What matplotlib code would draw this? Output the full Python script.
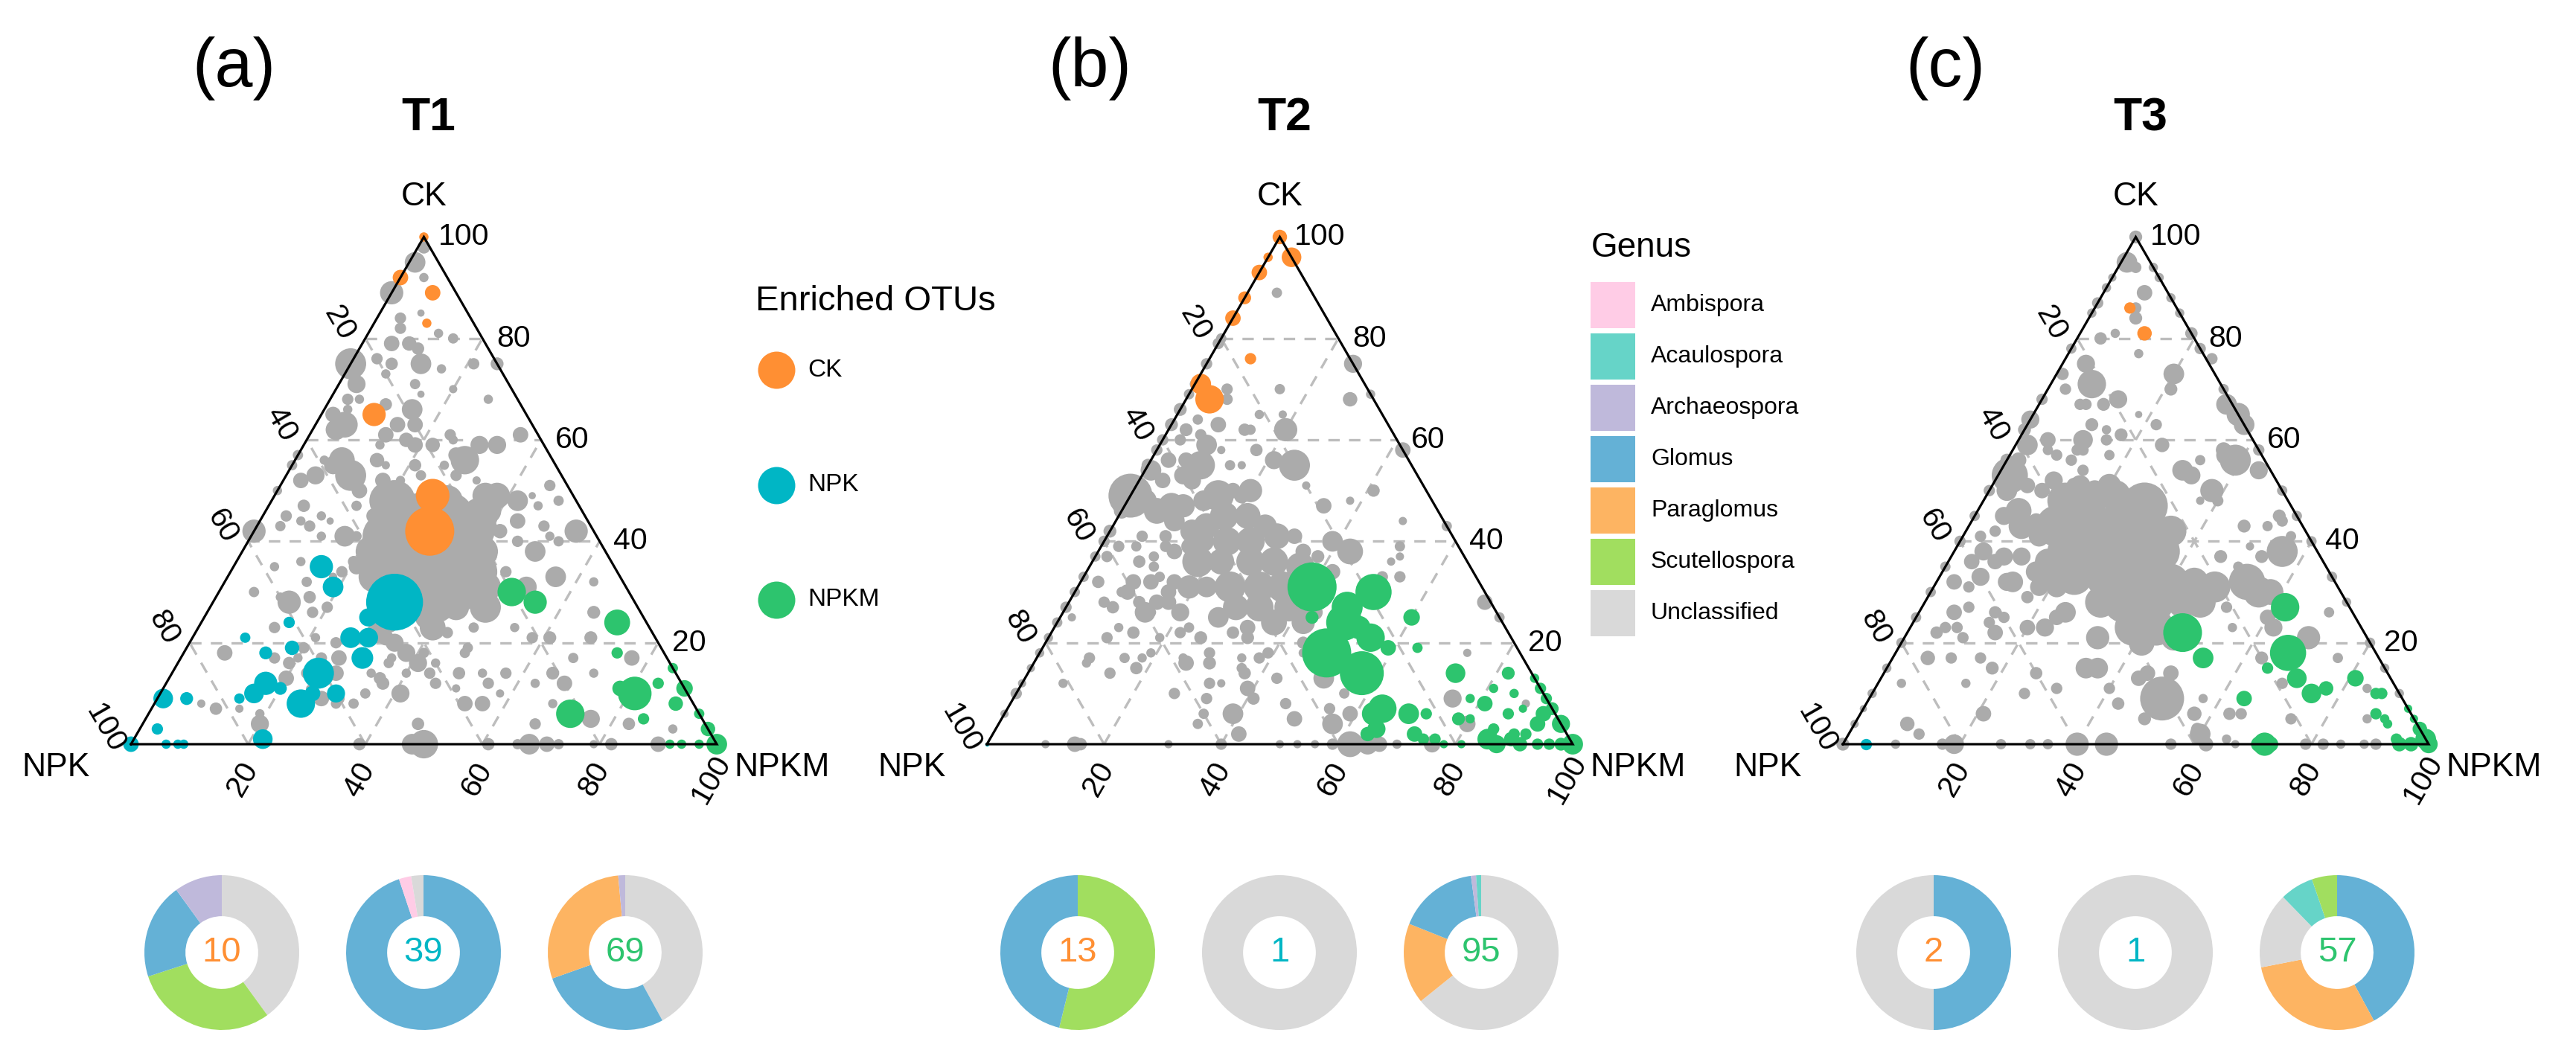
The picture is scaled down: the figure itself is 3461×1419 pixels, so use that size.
import numpy as np
import matplotlib.pyplot as plt
from matplotlib.patches import Rectangle

plt.rcParams['font.family'] = ['Liberation Sans', 'DejaVu Sans']
plt.rcParams['lines.scale_dashes'] = False

# ---- data: (CK %, NPKM %, relative abundance); NPK = 100 - CK - NPKM
t1_gray = [(98,1,2.5),(95,1,4.0),(92,4,1.8),(89,0,4.5),(85,7,1.4),(84,4,2.2),(82,5,2.2),(81,12,1.8),(79,5,3.0),
           (79,8,2.8),(80,15,2.0),(75,0,6.0),(76,4,2.2),(75,7,2.4),(75,12,4.0),(78,10,2.4),(74,16,1.8),(75,21,2.2),
           (75,25,2.5),(71,3,3.5),(73,7,1.8),(71,13,2.0),(69,15,1.4),(70,20,1.6),(68,27,1.8),(68,3,2.2),(67,10,2.4),
           (66,15,4.0),(63,5,5.0),(62,4,4.0),(63,14,3.0),(63,17,3.0),(61,13,3.0),(61,24,2.2),(60,25,1.8),(59,30,3.5),
           (59,33,3.5),(61,36,3.0),(60,17,2.8),(59,19,3.0),(59,22,2.8),(59,13,1.8),(56,8,5.0),(53,11,6.0),(50,14,3.0),
           (55,7,3.5),(56,14,2.8),(55,16,1.6),(56,5,1.8),(53,5,3.5),(55,0,2.0),(52,3,3.0),(50,0,1.8),(55,21,2.4),
           (53,23,2.0),(55,26,1.8),(56,29,5.5),(53,29,2.2),(57,27,3.0),(52,33,1.6),(52,17,3.0),(52,20,1.8),(48,20,7.5),
           (47,21,6.0),(45,19,3.0),(47,15,2.0),(47,6,2.4),(44,7,1.8),(45,10,1.8),(44,12,1.4),(43,9,2.2),(43,4,2.0),
           (42,0,4.5),(41,16,4.0),(41,18,2.0),(41,12,1.8),(43,40,2.2),(44,44,3.0),(48,42,4.0),(49,36,5.0),(48,38,4.0),
           (49,44,1.4),(47,46,1.8),(48,49,2.0),(51,46,2.2),(42,55,4.5),(43,49,2.2),(41,51,1.8),(40,53,2.0),(40,46,2.2),
           (38,50,4.0),(42,42,2.8),(39,41,2.4),(37,43,2.2),(33,56,4.0),(31,52,4.0),(32,63,1.8),(34,47,2.2),(31,46,2.4),
           (27,47,6.0),(27,42,5.0),(23,40,5.0),(23,47,2.0),(23,54,1.8),(21,58,2.2),(21,61,2.5),(26,66,2.5),(21,68,2.5),
           (17,77,3.0),(17,67,2.0),(14,65,2.5),(12,68,3.0),(14,72,1.8),(14,57,2.2),(14,53,1.8),(18,48,2.0),(11,50,1.6),
           (12,55,2.2),(10,58,1.6),(8,53,3.0),(8,56,3.0),(12,63,1.8),(8,68,1.8),(5,76,3.5),(4,83,2.4),(3,91,1.8),
           (4,67,2.2),(0,68,4.0),(0,71,3.0),(0,73,2.0),(0,79,1.6),(0,82,2.4),(0,90,3.0),(0,66,2.0),(0,61,2.4),
           (0,50,5.5),(0,48,4.0),(0,39,2.4),(4,47,2.4),(10,41,3.5),(12,37,2.5),(10,35,2.0),(13,36,2.4),(14,34,1.8),
           (14,40,1.8),(8,34,2.0),(9,31,2.2),(9,28,3.0),(11,25,1.4),(13,20,3.0),(16,19,2.4),(17,24,2.2),(17,20,1.8),
           (17,16,2.2),(14,23,2.2),(13,27,2.2),(11,18,1.6),(14,28,3.0),(8,31,2.0),(4,20,3.5),(6,19,1.8),(7,15,1.6),
           (7,11,2.4),(8,8,1.6),(18,7,3.0),(19,20,2.2),(21,21,1.8),(20,25,2.2),(17,27,3.0),(23,13,2.2),(26,18,2.2),
           (27,20,2.2),(29,16,2.4),(28,13,4.5),(30,6,2.0),(29,11,1.8),(36,11,1.8),(35,7,1.8),(36,20,2.2),(34,19,2.2),
           (33,18,1.6),(45,4,2.2),(32,14,2.0),(21,30,2.2),(21,33,3.0),(20,35,3.5),(18,38,3.5),(16,41,3.5),(16,36,2.0),
           (17,36,1.8),(18,41,2.0),(14,44,2.2),(16,44,1.8),(22,31,4.0),(24,32,4.0),(25,38,4.5),(28,40,4.0),(29,43,3.0),
           (28,38,4.0),(32,41,2.4),(22,43,2.2),(19,48,2.0),(14,49,2.4),(12,46,2.2),(65,2,3.0),(66,4,1.8),(68,5,1.8),
           (35,21,3.0),(57,0,2.0),
           (48,21,8),(45,27,9),(45,32,9),(45,37,7),(41,23,9),(40,29,11),(40,35,10),(38,41,6),(36,24,7),(35,30,11),
           (35,36,11),(34,42,8),(31,34,10),(31,40,10),(31,45,6),(38,27,8),(33,25,6),(42,38,7),(48,30,6),(44,23,7),
           (28,38,8),(38,22,6),(46,38,5),(49,38,5)]
t1_ck = [(100,0,1.8),(92,0,3.0),(89,7,3.0),(83,9,1.8),(65,9,4.5),(49,27,6.5),(42,30,9.5)]
t1_npk = [(35,15,4.5),(31,19,4.0),(28,31,11),(25,28,3.5),(24,15,2.2),(21,9,2.0),(21,27,4.0),(21,30,3.8),(19,18,2.8),
          (17,31,4.2),(18,14,2.5),(14,25,6.0),(12,17,4.5),(10,16,3.8),(11,20,2.5),(9,14,2.0),(9,5,2.5),(9,1,3.8),
          (8,25,5.5),(10,26,3.0),(10,30,3.5),(3,3,2.2),(1,22,3.8),(0,0,3.0),(0,6,1.8),(0,8,1.8),(0,9,1.8)]
t1_npkm = [(30,50,5.5),(28,55,4.5),(24,71,5.0),(18,74,2.2),(10,81,6.5),(11,78,3.0),(12,84,2.2),(15,85,2.0),(11,89,3.2),
           (8,89,2.8),(6,72,5.5),(5,85,2.2),(6,94,2.0),(3,97,2.8),(0,100,4.0),(0,92,1.8),(0,97,1.8),(0,94,1.8)]

t2_gray = [(89,5,2.0),(79,0,2.2),(75,25,3.5),(70,15,2.0),(70,6,2.2),(68,7,2.2),(68,28,2.8),(65,14,1.8),(65,18,1.6),
           (63,8,3.0),(64,4,2.0),(62,3,2.5),(61,6,2.2),(59,8,4.0),(58,11,1.6),(62,14,2.0),(62,13,2.4),(62,20,4.5),
           (58,17,2.4),(56,21,3.5),(55,25,6.0),(55,14,2.0),(55,16,1.6),(55,9,5.5),(56,6,3.0),(56,3,3.0),(54,1,4.0),
           (60,3,2.2),(52,4,3.0),(53,7,3.5),(52,9,3.5),(49,0,8.5),(48,3,4.5),(46,6,5.0),(47,8,5.0),(47,10,4.5),
           (48,13,4.0),(49,15,6.0),(50,17,3.0),(49,19,3.0),(50,20,4.5),(44,10,4.0),(42,14,4.5),(43,16,5.0),(45,18,5.5),
           (45,22,5.0),(43,26,4.5),(41,29,5.0),(40,17,4.0),(40,21,5.5),(40,25,5.5),(36,18,6.0),(36,22,5.0),(36,27,5.5),
           (36,31,5.5),(41,32,3.0),(38,35,3.0),(35,36,5.5),(31,22,4.0),(31,26,6.0),(31,31,6.0),(31,35,6.0),(27,29,5.0),
           (27,33,5.5),(27,38,5.5),(24,37,5.0),(24,42,4.5),(25,27,4.0),(23,33,3.0),(22,31,2.4),(28,41,4.5),(26,43,3.0),
           (37,38,2.5),(40,39,4.0),(38,43,5.0),(34,42,3.0),(47,34,3.0),(51,29,1.6),(48,38,1.6),(44,49,1.6),(39,51,2.0),
           (37,52,1.6),(36,51,1.6),(33,54,2.2),(33,51,2.2),(50,41,2.4),(58,42,3.0),(28,71,3.0),(25,75,2.0),(43,57,2.0),
           (18,73,1.6),(9,75,3.5),(4,80,3.2),(8,88,1.6),(0,76,3.2),(0,62,5.0),(0,65,4.0),(0,67,3.0),(4,57,4.0),
           (6,59,3.0),(7,55,2.2),(10,56,2.0),(13,51,4.0),(18,45,1.8),(20,44,2.4),(5,50,3.0),(13,43,2.2),(18,39,2.2),
           (9,41,2.4),(11,39,3.0),(14,37,2.4),(15,36,2.0),(17,35,1.8),(17,38,2.2),(21,34,2.5),(6,39,4.0),(2,42,3.0),
           (0,40,2.2),(9,33,2.2),(12,32,2.2),(12,34,1.6),(6,34,2.0),(16,30,2.5),(18,29,2.2),(17,25,1.8),(16,26,3.0),
           (21,26,2.5),(23,23,2.0),(22,22,2.2),(10,27,2.2),(4,34,2.0),(0,31,1.6),(15,18,2.4),(17,18,1.8),(22,14,2.4),
           (18,19,1.8),(17,15,2.0),(21,19,1.8),(14,14,2.2),(17,9,2.2),(16,9,1.8),(12,7,1.8),(10,0,2.2),(0,15,3.0),
           (0,10,1.6),(0,16,2.4),(32,3,2.4),(28,6,2.2),(27,8,2.4),(30,8,2.0),(32,9,3.0),(30,9,3.0),(28,12,2.4),
           (32,12,3.0),(28,15,3.0),(26,15,2.0),(26,14,4.0),(28,17,3.0),(26,20,3.5),(31,19,4.5),(32,16,3.0),(30,16,3.0),
           (33,13,2.0),(36,8,2.4),(37,10,2.0),(35,11,2.0),(39,11,2.2),(41,10,2.4),(39,6,2.0),(41,6,2.2),(38,13,3.0),
           (39,15,3.0),(37,2,2.2),(39,3,2.2),(25,2,1.6),(21,10,2.2),(23,11,1.8),(8,47,2.2),(0,50,1.6),(0,53,1.6),
           (0,56,1.6),(0,59,2.2),(0,70,1.8),(80,0,2.0),(75,0,2.2),(71,0,2.0),(69,0,2.0),(66,0,2.5),(63,0,2.5),
           (60,0,2.2),(58,0,2.2),(55,0,2.5),(48,0,3.0),(46,0,3.0),(42,0,2.5),(40,0,2.2),(37,0,2.0),(33,0,2.0),
           (30,0,2.0),(27,0,2.2),(24,0,2.0),(21,0,1.8),(18,0,1.8),(15,0,1.6),(12,0,1.6),(6,0,1.6),(69,31,1.8)]
t2_ck = [(100,0,2.8),(96,4,3.8),(96,0,1.8),(93,0,3.0),(88,0,2.5),(84,0,3.0),(76,7,2.2),(71,1,4.0),(68,4,5.5)]
t2_npk = [(0,0,0.8)]
t2_npkm = [(31,40,9.5),(30,51,7.0),(27,48,6.0),(24,49,7.0),(23,52,4.5),(21,55,5.5),(18,49,9.5),(14,57,8.5),(19,59,3.0),
           (25,60,3.2),(19,64,2.0),(25,43,2.5),(14,73,3.8),(14,82,2.5),(11,81,1.8),(10,85,1.8),(7,64,5.5),(6,63,4.5),
           (6,69,4.0),(6,72,2.2),(3,65,3.5),(2,64,2.8),(9,78,1.8),(8,81,3.0),(5,78,2.5),(5,80,1.8),(6,86,2.2),
           (7,88,1.6),(13,87,1.8),(11,89,2.2),(9,91,2.2),(7,93,2.5),(6,92,3.0),(4,92,3.0),(4,96,3.5),(3,85,2.2),
           (2,89,2.2),(2,91,2.2),(2,72,3.0),(1,74,2.2),(1,76,2.2),(0,78,1.6),(1,85,4.0),(0,87,3.5),(1,89,2.8),
           (0,91,2.8),(0,94,2.2),(0,96,2.2),(0,100,4.0),(0,98,2.5),(0,81,1.6)]

t3_gray = [(100,0,2.5),(95,1,4.0),(94,3,2.2),(94,6,1.8),(92,0,1.6),(89,7,3.0),(86,7,2.2),(84,8,2.5),(87,0,2.2),
           (88,12,1.8),(80,4,2.4),(81,6,1.8),(81,19,2.4),(77,12,1.8),(75,4,3.5),(71,7,5.5),(73,1,2.4),(70,3,2.2),
           (68,13,3.5),(73,20,4.0),(70,21,2.5),(76,25,2.2),(67,32,4.0),(65,35,4.5),(67,7,2.2),(67,8,2.2),(67,11,2.5),
           (65,18,1.4),(63,22,2.2),(63,11,2.5),(62,14,1.8),(60,11,3.8),(60,15,2.2),(61,17,2.5),(59,25,2.8),(64,0,3.5),
           (60,5,3.0),(59,2,4.0),(58,6,2.0),(57,8,2.2),(58,11,2.2),(58,12,2.2),(57,17,2.0),(56,11,2.2),(54,14,2.2),
           (56,2,3.0),(53,2,7.0),(50,3,4.0),(51,6,3.0),(50,9,3.0),(52,10,3.5),(51,14,3.0),(51,15,4.0),(50,18,4.0),
           (51,20,4.5),(47,28,9.0),(54,31,4.0),(53,33,3.5),(50,38,4.5),(56,33,2.0),(48,40,2.2),(58,36,3.0),(56,39,6.0),
           (57,37,4.0),(54,44,3.5),(48,37,1.6),(43,47,2.5),(43,51,2.0),(45,52,2.5),(44,53,2.2),(41,56,2.0),(38,56,6.0),
           (37,53,2.5),(39,50,1.6),(35,50,2.0),(37,46,2.5),(32,53,7.0),(30,56,6.0),(30,58,5.0),(31,48,6.0),(32,44,5.5),
           (25,60,3.0),(23,62,3.5),(21,69,4.5),(26,70,2.0),(17,76,2.0),(5,87,1.8),(27,52,2.2),(23,55,1.8),(17,63,2.5),
           (12,69,2.2),(9,50,8.5),(5,49,2.5),(13,44,3.0),(14,45,3.0),(14,49,3.0),(9,57,1.8),(6,57,2.8),(3,59,2.4),
           (2,60,4.0),(0,62,2.8),(0,56,2.2),(6,63,2.4),(6,65,2.2),(1,65,1.8),(0,67,1.6),(5,74,2.2),(0,79,2.2),
           (0,82,2.2),(0,85,1.8),(0,89,1.8),(0,91,2.2),(11,84,1.8),(0,45,4.5),(0,40,4.5),(0,35,2.0),(0,32,2.0),
           (0,27,2.0),(0,19,3.8),(0,17,2.2),(0,9,1.8),(0,0,2.5),(8,43,2.4),(11,40,2.2),(15,34,4.0),(15,36,4.0),
           (11,31,2.2),(14,26,2.4),(10,26,2.2),(6,21,3.0),(15,18,2.5),(17,15,2.2),(12,15,1.8),(17,6,2.8),(12,4,1.8),
           (4,9,2.8),(2,12,2.2),(7,0,1.4),(15,0,1.8),(23,6,2.2),(23,8,2.2),(24,13,2.2),(22,15,3.0),(23,20,3.0),
           (29,17,2.4),(23,23,3.5),(25,24,3.0),(31,6,2.2),(33,7,3.5),(32,3,3.0),(36,4,3.0),(38,5,3.5),(36,8,3.0),
           (37,9,3.5),(37,12,3.5),(32,12,3.5),(32,13,4.0),(34,16,4.0),(27,8,2.2),(26,13,2.4),(25,15,2.2),(26,6,3.0),
           (22,5,2.4),(21,10,2.2),(17,10,2.2),(41,3,2.2),(42,5,2.2),(45,5,3.5),(46,7,5.0),(43,9,5.0),(44,11,3.0),
           (41,13,4.0),(36,17,5.0),(33,19,5.0),(31,21,4.0),(31,18,3.5),(26,25,4.0),(21,33,4.5),
           (48,14,7),(48,18,7),(49,22,6),(43,15,8),(43,20,9),(43,25,8),(42,31,7),(42,35,6),(38,19,7),(38,24,9),
           (38,30,9),(38,35,8),(33,23,7),(33,29,9),(33,34,9),(32,40,7),(28,30,6),(28,34,8),(28,39,8),(28,44,6),
           (23,38,7),(23,42,7),(20,41,5),(21,46,5),(28,47,6),
           (90,0,1.8),(85,0,1.8),(78,0,2.0),(68,0,2.2),(62,0,2.5),(56,0,2.5),(50,0,2.2),(45,0,2.0),(40,0,2.2),
           (35,0,2.0),(30,0,2.0),(25,0,2.0),(20,0,2.0),(10,0,1.8),(4,0,1.6),(92,8,1.8),(85,15,1.8),(78,22,2.2),
           (70,30,2.0),(63,37,4.0),(58,42,2.2),(50,50,2.0),(45,55,2.0),(40,60,2.0),(33,67,2.0),(28,72,1.8),
           (20,80,2.0),(15,85,1.8),(10,90,1.8)]
t3_ck = [(86,6,2.2),(81,11,2.8)]
t3_npk = [(0,4,2.2)]
t3_npkm = [(22,47,7.5),(17,53,4.0),(27,62,5.5),(18,67,7.0),(15,65,2.2),(13,71,3.8),(10,75,3.8),(11,77,2.8),(13,81,3.2),
           (9,64,3.0),(10,86,2.2),(10,87,2.2),(6,88,2.2),(5,90,1.8),(4,91,1.8),(7,93,1.6),(5,95,1.6),(3,97,2.8),
           (1,99,4.0),(0,100,3.5),(0,72,4.5),(0,71,3.0),(0,73,3.0),(0,95,2.8),(0,97,2.8),(1,94,2.2)]

# genus composition of enriched OTUs (clockwise from 12 o'clock)
t1_pies = [[('Unclassified', 4), ('Scutellospora', 3), ('Glomus', 2), ('Archaeospora', 1)],
           [('Glomus', 37), ('Ambispora', 1), ('Unclassified', 1)],
           [('Unclassified', 29), ('Glomus', 19), ('Paraglomus', 20), ('Archaeospora', 1)]]
t2_pies = [[('Scutellospora', 7), ('Glomus', 6)],
           [('Unclassified', 1)],
           [('Unclassified', 61), ('Paraglomus', 16), ('Glomus', 16), ('Archaeospora', 1), ('Acaulospora', 1)]]
t3_pies = [[('Glomus', 1), ('Unclassified', 1)],
           [('Unclassified', 1)],
           [('Glomus', 24), ('Paraglomus', 17), ('Unclassified', 9), ('Acaulospora', 4), ('Scutellospora', 3)]]

genus_names = ['Ambispora', 'Acaulospora', 'Archaeospora', 'Glomus', 'Paraglomus', 'Scutellospora', 'Unclassified']
genus_colors = ['#FFCCE6', '#66D4C8', '#BFB9DB', '#64B1D6', '#FDB462', '#A1DE5F', '#D9D9D9']
group_names = ['CK', 'NPK', 'NPKM']
group_colors = ['#FF8F33', '#00B6C5', '#2DC46E']
gray = '#ABABAB'
panel_tags = ['(a)', '(b)', '(c)']
panel_titles = ['T1', 'T2', 'T3']
grid_vals = [20, 40, 60, 80]
tick_vals = [20, 40, 60, 80, 100]

panels = [(t1_gray, [t1_ck, t1_npk, t1_npkm], t1_pies),
          (t2_gray, [t2_ck, t2_npk, t2_npkm], t2_pies),
          (t3_gray, [t3_ck, t3_npk, t3_npkm], t3_pies)]

W, H = 3461, 1419
fig = plt.figure(figsize=(W / 100, H / 100), dpi=100)
S3 = np.sqrt(3) / 2
SIDE = 787
BASE = 1000
R = 104


def rect_px(x, y, w, h):
    return [x / W, 1 - (y + h) / H, w / W, h / H]


def ftext(x, y, s, **kw):
    fig.text(x / W, 1 - y / H, s, **kw)


def to_xy(pts):
    a = np.array(pts, float)
    ck, npkm, r = a[:, 0], a[:, 1], a[:, 2]
    return npkm + ck / 2, ck * S3, (5.0 * r) ** 2


# legend keys overlay
lax = fig.add_axes([0, 0, 1, 1])
lax.set_xlim(0, W)
lax.set_ylim(H, 0)
lax.axis('off')

for k, (gpts, groups, pies) in enumerate(panels):
    left = 176 + 1150 * k
    ax = fig.add_axes(rect_px(left, BASE - SIDE * S3, SIDE, SIDE * S3))
    ax.set_xlim(0, 100)
    ax.set_ylim(0, 100 * S3)
    ax.axis('off')

    gkw = dict(color='#BDBDBD', lw=2.4, ls=(0, (11, 9)), zorder=1)
    for v in grid_vals:
        ax.plot([v / 2, 100 - v / 2], [v * S3, v * S3], **gkw)
        ax.plot([v, v + (100 - v) / 2], [0, (100 - v) * S3], **gkw)
        ax.plot([100 - v, (100 - v) / 2], [0, (100 - v) * S3], **gkw)

    x, y, s = to_xy(gpts)
    ax.scatter(x, y, s=s, c=gray, linewidths=0, clip_on=False, zorder=2)
    for pts, col in zip(groups, group_colors):
        x, y, s = to_xy(pts)
        ax.scatter(x, y, s=s, c=col, linewidths=0, clip_on=False, zorder=3)

    ax.plot([0, 100, 50, 0], [0, 0, 100 * S3, 0], color='black', lw=2.3,
            clip_on=False, zorder=5, solid_joinstyle='miter')

    for v in tick_vals:
        ax.text(100 - v / 2 + 2.4, v * S3, str(v), ha='left', va='center', fontsize=29.5)
        c = 100 - v
        ax.text(c / 2 - 4.4, c * S3 + 2.6, str(v), ha='center', va='center', rotation=-60, fontsize=29.5)
        ax.text(v - 1.0, -6.0, str(v), ha='center', va='center', rotation=60, fontsize=29.5)

    ax.text(50, 93.4, group_names[0], ha='center', va='center', fontsize=32)
    ax.text(-7.0, -4.0, group_names[1], ha='right', va='center', fontsize=32)
    ax.text(103.0, -4.0, group_names[2], ha='left', va='center', fontsize=32)

    ftext(left + 400, 175, panel_titles[k], ha='center', va='baseline', fontsize=45, fontweight='bold')
    ftext(left + 138, 92, panel_tags[k], ha='center', va='center', fontsize=66)

    for j, parts in enumerate(pies):
        cx = left + 122 + 271 * j
        pax = fig.add_axes(rect_px(cx - R, 1280 - R, 2 * R, 2 * R))
        counts = [p[1] for p in parts]
        cols = [genus_colors[genus_names.index(p[0])] for p in parts]
        pax.pie(counts, colors=cols, startangle=90, counterclock=False, radius=1,
                wedgeprops=dict(width=0.53, linewidth=0))
        pax.set_xlim(-1, 1)
        pax.set_ylim(-1, 1)
        pax.set_aspect('equal')
        pax.text(0, 0, str(sum(counts)), ha='center', va='center', fontsize=34, color=group_colors[j])

# legend: enriched OTUs
ftext(1015, 405, 'Enriched OTUs', ha='left', va='center', fontsize=34)
for i, (name, col) in enumerate(zip(group_names, group_colors)):
    yy = 497 + 154.5 * i
    lax.scatter([1043], [yy], s=(50 * 0.72) ** 2, c=col, linewidths=0)
    ftext(1085, yy, name, ha='left', va='center', fontsize=24)

# legend: genus
ftext(2138, 333, 'Genus', ha='left', va='center', fontsize=33)
for i, (name, col) in enumerate(zip(genus_names, genus_colors)):
    lax.add_patch(Rectangle((2137, 379 + 69 * i), 60, 62, facecolor=col, edgecolor='none'))
    ftext(2218, 410 + 69 * i, name, ha='left', va='center', fontsize=23)

fig.savefig('out.png', dpi=100)
